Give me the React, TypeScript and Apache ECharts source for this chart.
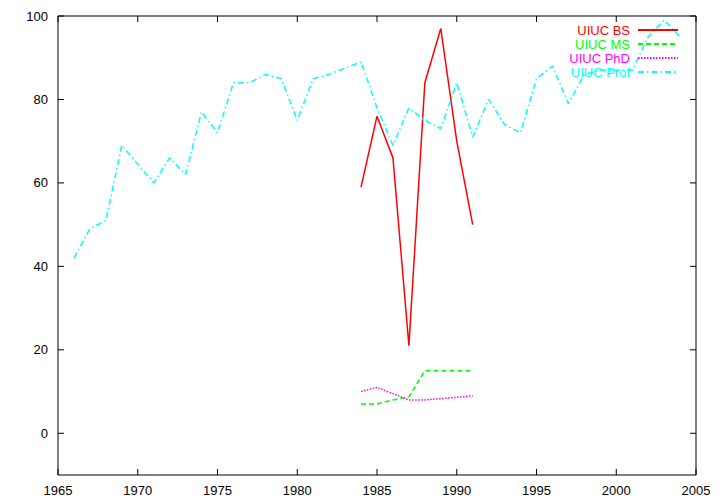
import React, { useEffect, useRef } from "react";
import * as echarts from "echarts";

const bsYears = [1984, 1985, 1986, 1987, 1988, 1989, 1990, 1991];
const bsValues = [59, 76, 66, 21, 84, 97, 70, 50];

const msYears = [1984, 1985, 1986, 1987, 1988, 1989, 1990, 1991];
const msValues = [7, 7, 8, 8.7, 15, 15, 15, 15];

const phdYears = [1984, 1985, 1986, 1987, 1988, 1989, 1990, 1991];
const phdValues = [10, 11, 9.5, 8, 8, 8.3, 8.6, 9];

const profYears = [
  1966, 1967, 1968, 1969, 1970, 1971, 1972, 1973, 1974, 1975, 1976, 1977, 1978,
  1979, 1980, 1981, 1982, 1983, 1984, 1985, 1986, 1987, 1988, 1989, 1990, 1991,
  1992, 1993, 1994, 1995, 1996, 1997, 1998, 1999, 2000, 2001, 2002, 2003, 2004,
];
const profValues = [
  42, 49, 51, 69, 64.5, 60, 66, 62, 77, 72, 84, 84, 86, 85, 75, 85, 86, 87.5, 89,
  78, 69, 78, 75, 73, 84, 71, 80, 74, 72, 85, 88, 79, 86, 87, 87, 87, 95, 99, 95,
];

const xTicks = [1965, 1970, 1975, 1980, 1985, 1990, 1995, 2000, 2005];
const yTicks = [0, 20, 40, 60, 80, 100];
const yMin = -10;
const yMax = 100;

const seriesNames = ["UIUC BS", "UIUC MS", "UIUC PhD", "UIUC Prof"];
const seriesColors = ["#ff0000", "#00ff00", "#ff00ff", "#00ffff"];

const pairs = (xs: number[], ys: number[]) => xs.map((x, i) => [x, ys[i]]);

export default function App() {
  const ref = useRef<HTMLDivElement>(null);
  useEffect(() => {
    if (!ref.current) return;
    const chart = echarts.init(ref.current, undefined, { renderer: "svg" });
    const font = "'Liberation Sans', Arial, Helvetica, sans-serif";
    const dashes: any[] = ["solid", [5, 3], [1.5, 1.5], [6, 3, 1.5, 3]];
    const datas = [
      pairs(bsYears, bsValues),
      pairs(msYears, msValues),
      pairs(phdYears, phdValues),
      pairs(profYears, profValues),
    ];
    const xMin = xTicks[0];
    const xMax = xTicks[xTicks.length - 1];
    const T = 6;
    const tickLine = (x1: number, y1: number, x2: number, y2: number) => ({
      type: "line",
      shape: { x1, y1, x2, y2 },
      style: { stroke: "#000", lineWidth: 1 },
    });
    chart.setOption({
      animation: false,
      backgroundColor: "#fff",
      grid: {
        left: 58,
        right: 24,
        top: 16,
        bottom: 29,
        show: true,
        borderColor: "#000",
        borderWidth: 1,
        backgroundColor: "transparent",
      },
      legend: {
        orient: "vertical",
        right: 36,
        top: 18,
        align: "right",
        itemWidth: 40,
        itemHeight: 14,
        itemGap: 0,
        itemStyle: { opacity: 0 },
        data: seriesNames.map((n, i) => ({
          name: n,
          itemStyle: { opacity: 0 },
          textStyle: { color: seriesColors[i], fontFamily: font, fontSize: 13, lineHeight: 14, padding: [0, 3, 0, 0] },
        })),
        textStyle: { fontFamily: font, fontSize: 13, lineHeight: 14 },
        selectedMode: false,
      },
      xAxis: {
        type: "value",
        min: xMin,
        max: xMax,
        interval: 5,
        axisLine: { show: false, onZero: false },
        axisTick: { show: false },
        splitLine: { show: false },
        axisLabel: {
          color: "#000",
          fontFamily: font,
          fontSize: 13,
          margin: 9,
          formatter: (v: number) => String(v),
        },
      },
      yAxis: {
        type: "value",
        min: yMin,
        max: yMax,
        axisLine: { show: false, onZero: false },
        axisTick: { show: false },
        splitLine: { show: false },
        axisLabel: {
          color: "#000",
          fontFamily: font,
          fontSize: 13,
          margin: 10,
          customValues: yTicks,
        },
      },
      series: [
        ...seriesNames.map((n, i) => ({
          name: n,
          type: "line",
          data: datas[i],
          symbol: "none",
          showSymbol: false,
          color: seriesColors[i],
          lineStyle: { color: seriesColors[i], width: 1.5, type: dashes[i] },
          z: 2,
        })),
        {
          name: "yticks",
          type: "custom",
          silent: true,
          clip: false,
          data: yTicks.map((v) => [xMin, v]),
          encode: { x: 0, y: 1 },
          renderItem: (params: any, api: any) => {
            const v = api.value(1);
            const p = api.coord([xMin, v]);
            const q = api.coord([xMax, v]);
            return {
              type: "group",
              children: [tickLine(p[0], p[1], p[0] + T, p[1]), tickLine(q[0] - T, q[1], q[0], q[1])],
            };
          },
          z: 5,
        },
        {
          name: "xticks",
          type: "custom",
          silent: true,
          clip: false,
          data: xTicks.map((v) => [v, yMin]),
          encode: { x: 0, y: 1 },
          renderItem: (params: any, api: any) => {
            const v = api.value(0);
            const p = api.coord([v, yMin]);
            const q = api.coord([v, yMax]);
            return {
              type: "group",
              children: [tickLine(p[0], p[1], p[0], p[1] - T), tickLine(q[0], q[1], q[0], q[1] + T)],
            };
          },
          z: 5,
        },
      ],
    });
    return () => chart.dispose();
  }, []);
  return <div ref={ref} style={{ width: 720, height: 504, position: "absolute", left: 0, top: 0 }} />;
}
